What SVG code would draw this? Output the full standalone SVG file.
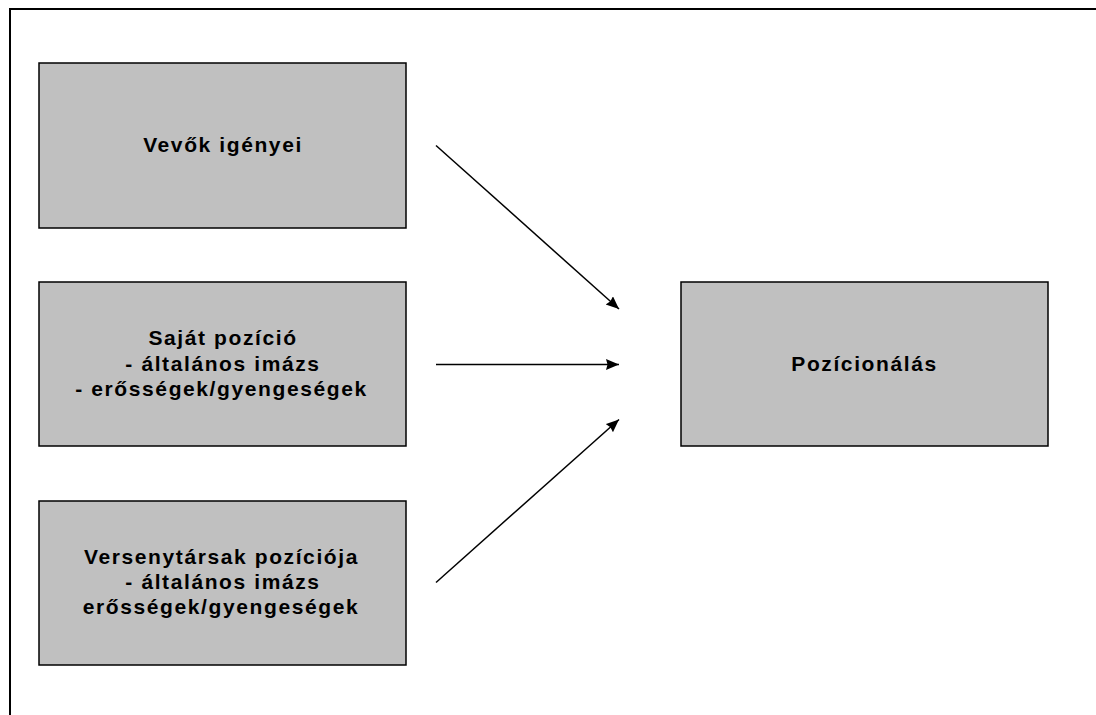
<svg xmlns="http://www.w3.org/2000/svg" width="1096" height="715" viewBox="0 0 1096 715">
  <style>
    .frame { fill: none; stroke: #000; stroke-width: 2; }
    .box { fill: #c0c0c0; stroke: #000; stroke-width: 1.5; }
    .label { font-family: "Liberation Sans", Arial, sans-serif; font-size: 21px; font-weight: bold; fill: #000; letter-spacing: 1.6px; text-anchor: middle; }
    .edge { fill: none; stroke: #000; stroke-width: 1.5; }
  </style>
  <defs>
    <marker id="arrow" markerUnits="userSpaceOnUse" markerWidth="15" markerHeight="12" refX="13" refY="5.5" orient="auto">
      <path d="M0,0 L13,5.5 L0,11 L1.5,5.5 z" fill="#000"/>
    </marker>
  </defs>

  <rect width="1096" height="715" fill="#fff"/>
  <!-- outer frame, open to the right and bottom -->
  <path class="frame" d="M10,730 L10,9 L1110,9"/>

  <g id="node-vevok">
    <rect class="box" x="39" y="63" width="367" height="165"/>
    <text class="label" x="223" y="152">Vevők igényei</text>
  </g>

  <g id="node-sajat">
    <rect class="box" x="39" y="282" width="367" height="164"/>
    <text class="label" x="223" y="345">Saját pozíció</text>
    <text class="label" x="223" y="370.5">- általános imázs</text>
    <text class="label" x="221.5" y="396">- erősségek/gyengeségek</text>
  </g>

  <g id="node-versenytarsak">
    <rect class="box" x="39" y="501" width="367" height="164"/>
    <text class="label" x="221.5" y="563.5">Versenytársak pozíciója</text>
    <text class="label" x="223" y="588.5">- általános imázs</text>
    <text class="label" x="221" y="613.5">erősségek/gyengeségek</text>
  </g>

  <g id="node-pozicionalas">
    <rect class="box" x="681" y="282" width="367" height="164"/>
    <text class="label" x="864.5" y="371">Pozícionálás</text>
  </g>

  <g id="connectors">
    <line class="edge" x1="436" y1="145.5" x2="619" y2="309" marker-end="url(#arrow)"/>
    <line class="edge" x1="436" y1="364.5" x2="619" y2="364.5" marker-end="url(#arrow)"/>
    <line class="edge" x1="436" y1="582.5" x2="619" y2="419.5" marker-end="url(#arrow)"/>
  </g>
</svg>
